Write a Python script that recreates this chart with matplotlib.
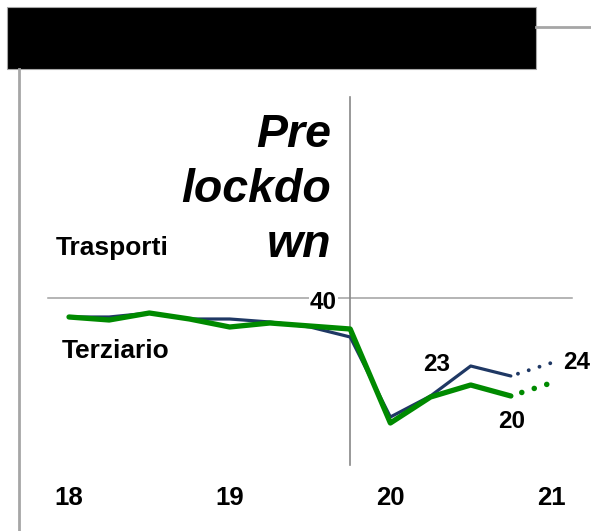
import numpy as np
import matplotlib
matplotlib.use("Agg")
import matplotlib.pyplot as plt
from matplotlib.patches import Rectangle
from matplotlib.lines import Line2D

plt.rcParams['font.family'] = ['Liberation Sans', 'DejaVu Sans']

# trimestri 2018Q1 .. 2020Q4, poi proiezione 2021Q1
quarters = np.arange(12)
proj_x = [11, 12]
year_ticks = [0, 4, 8, 12]
year_labels = ['18', '19', '20', '21']

trasporti = [35.25, 35.25, 36.25, 34.75, 34.75, 34.0, 32.75, 30.25, 10.25, 15.5, 23.0, 20.5]
trasporti_proj = [20.5, 23.75]
terziario = [35.25, 34.5, 36.25, 34.75, 32.75, 33.75, 33.0, 32.25, 8.75, 15.25, 18.25, 15.5]
terziario_proj = [15.5, 18.75]

lockdown_x = 7
grid_y = 40

navy = '#1f3864'
green = '#008a00'
W, H = 591, 531

fig = plt.figure(figsize=(W / 100, H / 100), dpi=100)
ax = fig.add_axes([0, 0, 1, 1])
ax.set_xlim(-69 / 40.17, (W - 69) / 40.17)
ax.set_ylim(grid_y - (H - 298) / 4, grid_y + 298 / 4)
ax.axis('off')

# cornice grigia e riquadro nero del titolo
fig.add_artist(Line2D([19 / W, 19 / W], [0, 1 - 69 / H], color='#a6a6a6', lw=2))
fig.add_artist(Line2D([536 / W, 1], [1 - 27 / H, 1 - 27 / H], color='#a6a6a6', lw=2))
fig.add_artist(Rectangle((7 / W, 1 - 69 / H), 529 / W, 62 / H, transform=fig.transFigure,
                         facecolor='black', edgecolor='#a6a6a6', lw=0.8))

# griglia a 40 e linea pre lockdown
ax.axhline(grid_y, xmin=48 / W, xmax=572 / W, color='#a0a0a0', lw=1.1, zorder=1)
ax.axvline(lockdown_x, ymin=(H - 465) / H, ymax=(H - 97) / H, color='#888888', lw=1.2, zorder=1)

# serie
ax.plot(quarters, trasporti, color=navy, lw=2.3, solid_capstyle='round', zorder=3)
ax.plot(quarters, terziario, color=green, lw=3.8, solid_capstyle='round', zorder=4)
ax.plot(proj_x, trasporti_proj, color=navy, lw=2.8, dash_capstyle='round',
        linestyle=(1.0, (0.01, 2.9)), zorder=3)
ax.plot(proj_x, terziario_proj, color=green, lw=4.0, dash_capstyle='round',
        linestyle=(0.3, (0.01, 2.35)), zorder=4)

# etichette
ax.text(331 / W, 1 - 113 / H, 'Pre\nlockdo\nwn', transform=ax.transAxes, ha='right', va='top',
        fontsize=33.5, fontweight='bold', fontstyle='italic', linespacing=1.33)
ax.text(56 / W, 1 - 255 / H, 'Trasporti', transform=ax.transAxes, ha='left', va='baseline',
        fontsize=19, fontweight='bold')
ax.text(62 / W, 1 - 358 / H, 'Terziario', transform=ax.transAxes, ha='left', va='baseline',
        fontsize=19, fontweight='bold')
ax.annotate('40', (lockdown_x, grid_y), xytext=(-9.5, -3), textcoords='offset points',
            ha='right', va='center', fontsize=17.5, fontweight='bold',
            bbox=dict(facecolor='white', edgecolor='none', pad=1), zorder=2)
ax.annotate('23', (quarters[10], trasporti[10]), xytext=(-24.5, 1), textcoords='offset points',
            ha='center', va='center', fontsize=17.5, fontweight='bold')
ax.annotate('24', (proj_x[1], trasporti_proj[1]), xytext=(18.4, 0.5), textcoords='offset points',
            ha='center', va='center', fontsize=17.5, fontweight='bold')
ax.annotate('20', (quarters[11], terziario[11]), xytext=(0.4, -18.4), textcoords='offset points',
            ha='center', va='center', fontsize=17.5, fontweight='bold')

for xt, lab in zip(year_ticks, year_labels):
    ax.text(xt, (H - 498) / H, lab, transform=ax.get_xaxis_transform(), ha='center',
            va='center', fontsize=18.5, fontweight='bold')

fig.savefig('out.png', dpi=100)
